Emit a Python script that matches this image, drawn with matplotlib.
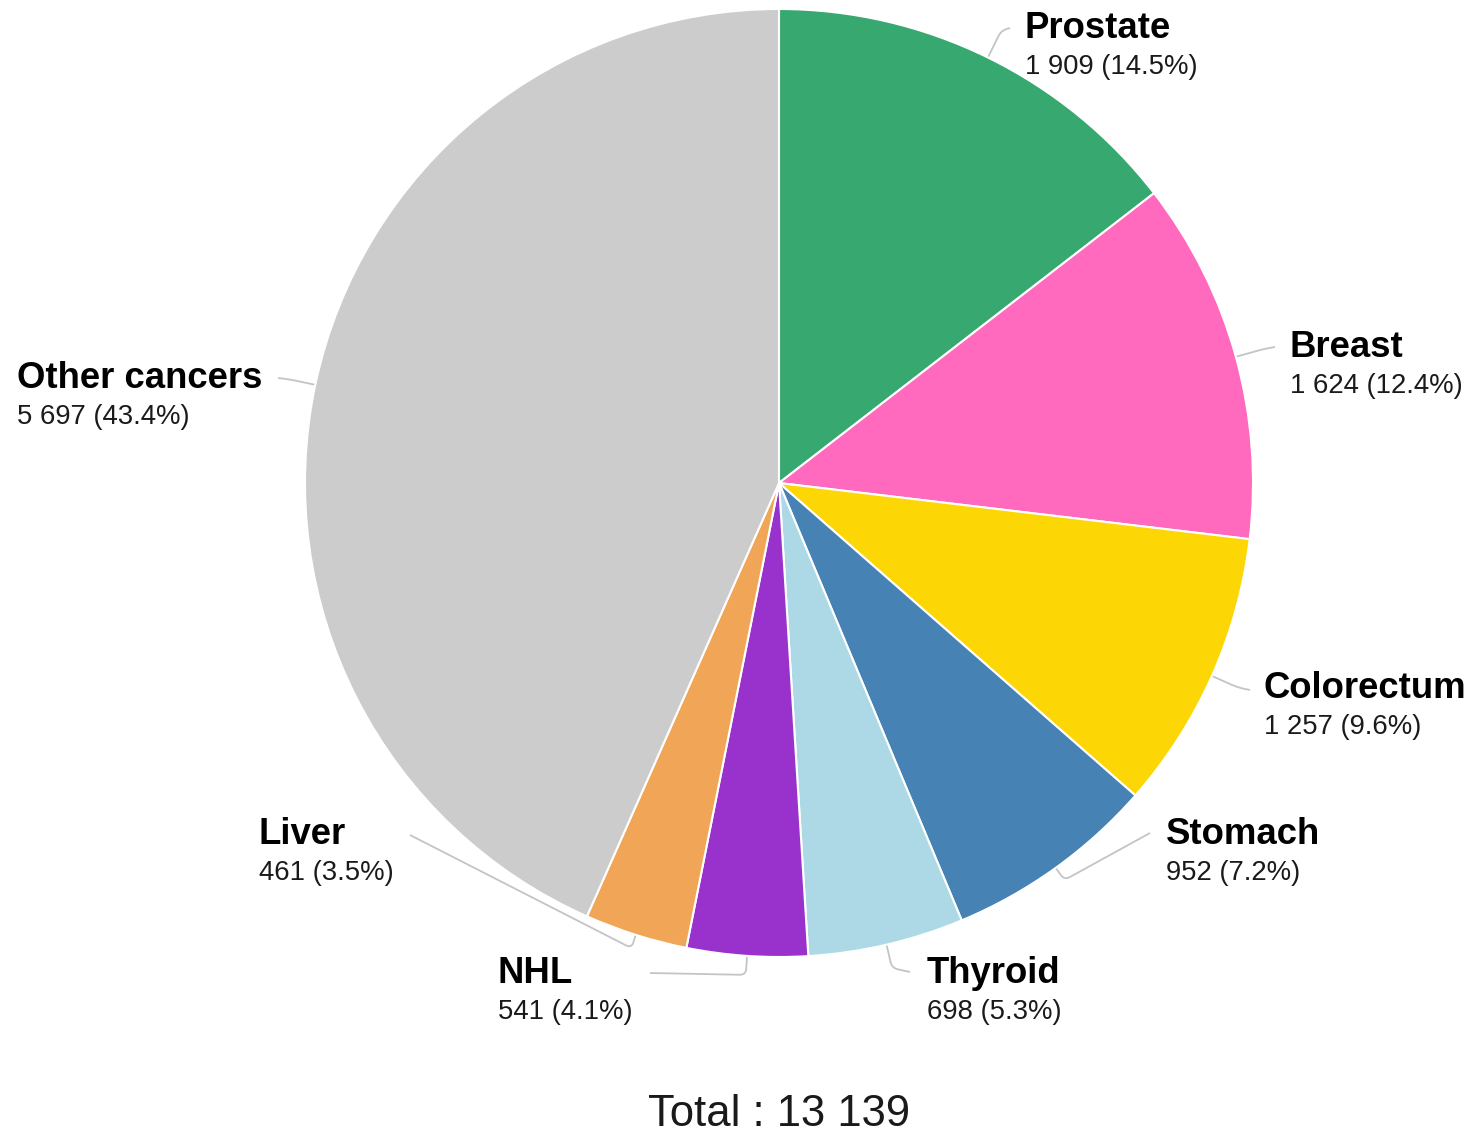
import numpy as np
import matplotlib.pyplot as plt
from matplotlib.path import Path
from matplotlib.patches import PathPatch

plt.rcParams['font.family'] = ['Liberation Sans', 'DejaVu Sans']

# new cancer cases, all ages, both sexes
sites  = ['Prostate', 'Breast', 'Colorectum', 'Stomach', 'Thyroid', 'NHL', 'Liver', 'Other cancers']
cases  = [1909, 1624, 1257, 952, 698, 541, 461, 5697]
colors = ['#37a86f', '#ff69be', '#fcd705', '#4682b4', '#add8e6', '#9932cc', '#f0a656', '#cccccc']

W, H = 1474, 1131
cx, cy, R = 779, H - 483, 474

# label baselines (name, value) and leader end points, in pixels from top-left
label_pos = {
    'Prostate':      (1025, 38,  (1010, 28)),
    'Breast':        (1290, 357, (1275, 347)),
    'Colorectum':    (1264, 698, (1250, 690)),
    'Stomach':       (1166, 844, (1150, 833)),
    'Thyroid':       (927,  983, (910, 972)),
    'NHL':           (498,  983, (650, 973)),
    'Liver':         (259,  844, (410, 835)),
    'Other cancers': (17,   388, (278, 378)),
}
elbow_gap = {'Prostate': 30, 'Breast': 30, 'Colorectum': 28, 'Stomach': 15,
             'Thyroid': 24, 'NHL': 19, 'Liver': 14, 'Other cancers': 26}

fig = plt.figure(figsize=(W / 100, H / 100), dpi=100)
ax = fig.add_axes([0, 0, 1, 1])

wedges, _ = ax.pie(cases, colors=colors, startangle=90, counterclock=False,
                   center=(cx, cy), radius=R,
                   wedgeprops=dict(edgecolor='white', linewidth=1.5))

# pie() resets the limits, so put pixel coordinates back afterwards
ax.set_xlim(0, W)
ax.set_ylim(0, H)
ax.set_aspect('equal')
ax.axis('off')

total = sum(cases)
for w, name, v in zip(wedges, sites, cases):
    mid = np.deg2rad((w.theta1 + w.theta2) / 2)
    ux, uy = np.cos(mid), np.sin(mid)
    p0 = (cx + (R + 1) * ux, cy + (R + 1) * uy)
    g = elbow_gap[name]
    tx, ty_name, end = label_pos[name]
    ex, ey = end[0], H - end[1]
    el = (cx + (R + g) * ux, cy + (R + g) * uy)
    # rounded corner at the elbow
    a = (el[0] - 6 * ux, el[1] - 6 * uy)
    d = np.array([ex - el[0], ey - el[1]])
    d = d / np.hypot(*d)
    b = (el[0] + 6 * d[0], el[1] + 6 * d[1])
    path = Path([p0, a, el, b, (ex, ey)],
                [Path.MOVETO, Path.LINETO, Path.CURVE3, Path.CURVE3, Path.LINETO])
    ax.add_patch(PathPatch(path, fill=False, edgecolor='#c4c4c4', linewidth=1.3))

    pct = 100 * v / total
    ax.text(tx, H - ty_name, name, fontsize=26.3, fontweight='bold',
            ha='left', va='baseline', color='black')
    ax.text(tx, H - ty_name - 36, f"{v:,}".replace(',', ' ') + f" ({pct:.1f}%)",
            fontsize=19.8, ha='left', va='baseline', color='#1a1a1a')

ax.text(cx, H - 1126, f"Total : {total:,}".replace(',', ' '), fontsize=31.4,
        ha='center', va='baseline', color='#1a1a1a')

fig.savefig('out.png', dpi=100, facecolor='white')
